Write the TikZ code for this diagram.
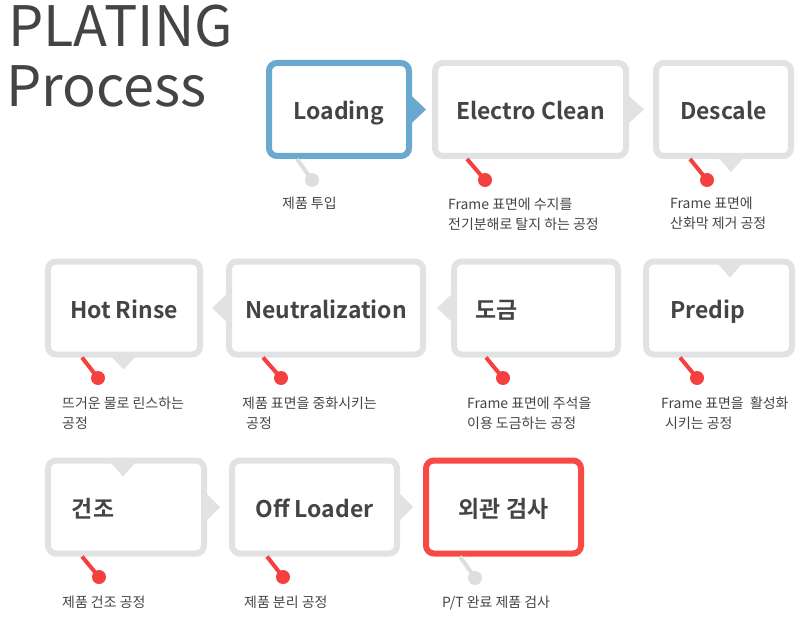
\documentclass[tikz,border=0pt]{standalone}
\usepackage{fontspec}
\setmainfont{Noto Sans CJK KR}[BoldFont={Noto Sans CJK KR Bold}]
\usetikzlibrary{calc}
\definecolor{bgray}{HTML}{E1E2E4}
\definecolor{bblue}{HTML}{69A9CF}
\definecolor{bred}{HTML}{F84A44}
\definecolor{dotred}{HTML}{F4403F}
\definecolor{dotgray}{HTML}{DDDEE0}
\definecolor{txt}{HTML}{444444}
\begin{document}
\begin{tikzpicture}[x=1bp,y=-1bp,
 stepbox/.style={draw=bgray, line width=6bp, fill=white, rounded corners=8bp, minimum height=93bp, inner ysep=0pt, text height=21bp, text depth=0pt, font=\fontsize{23}{28}\selectfont\bfseries, text=txt},
 pindot/.style={circle, fill=#1, minimum size=14bp, inner sep=0pt},
 lnk/.style={draw=#1, line width=4bp},
 desc/.style={anchor=base west, align=left, inner sep=0pt, font=\fontsize{14}{20}\selectfont, text=txt},
 bigtitle/.style={anchor=base west, inner sep=0pt, font=\fontsize{56}{60}\selectfont, text=txt},
]
\path[use as bounding box, fill=white] (0,0) rectangle (798,618);

% title
\node[bigtitle] (tt1) at (8,47) {PLATING};
\node[bigtitle] (tt2) at (6,107) {Process};

% row 1
\node[stepbox, draw=bblue, minimum width=140bp] (b1) at (339,109.5) {Loading};
\node[stepbox, minimum width=191bp] (b2) at (530.5,109.5) {Electro Clean};
\node[stepbox, minimum width=135bp] (b3) at (723.5,109.5) {Descale};
% row 2
\node[stepbox, minimum width=152bp] (b4) at (124,308) {Hot Rinse};
\node[stepbox, minimum width=194bp] (b5) at (326,308) {Neutralization};
\node[stepbox, inner xsep=21bp, text width=122bp, align=left] (b6) at (536,308) {도금};
\node[stepbox, inner xsep=24bp, text width=98bp, align=left] (b7) at (719,308) {Predip};
% row 3
\node[stepbox, inner xsep=24bp, text width=108bp, align=left] (b8) at (126,507) {건조};
\node[stepbox, minimum width=165bp] (b9) at (314.5,507) {Off Loader};
\node[stepbox, draw=bred, minimum width=155bp] (b10) at (503.5,507) {외관 검사};

% pointers
\fill[bblue] ($(b1.east)+(-4,-17)$) -- ($(b1.east)+(14,0)$) -- ($(b1.east)+(-4,17)$) -- cycle;
\fill[bgray] ($(b2.east)+(-4,-17)$) -- ($(b2.east)+(15,0)$) -- ($(b2.east)+(-4,17)$) -- cycle;
\fill[bgray] ($(b3.south west)+(63,-4)$) -- ($(b3.south west)+(93,-4)$) -- ($(b3.south west)+(78,13)$) -- cycle;
\fill[bgray] ($(b4.south west)+(63.5,-4)$) -- ($(b4.south west)+(93.5,-4)$) -- ($(b4.south west)+(78.5,12)$) -- cycle;
\fill[bgray] ($(b5.west)+(4,-17)$) -- ($(b5.west)+(-14,0)$) -- ($(b5.west)+(4,17)$) -- cycle;
\fill[bgray] ($(b6.west)+(4,-17)$) -- ($(b6.west)+(-14,0)$) -- ($(b6.west)+(4,17)$) -- cycle;
\fill[bgray] ($(b7.north west)+(73,3)$) -- ($(b7.north west)+(101,3)$) -- ($(b7.north west)+(87,19)$) -- cycle;
\fill[bgray] ($(b8.north west)+(64,3)$) -- ($(b8.north west)+(92,3)$) -- ($(b8.north west)+(78,19)$) -- cycle;
\fill[bgray] ($(b8.east)+(-4,-17)$) -- ($(b8.east)+(13,0)$) -- ($(b8.east)+(-4,17)$) -- cycle;
\fill[bgray] ($(b9.east)+(-4,-17)$) -- ($(b9.east)+(13,0)$) -- ($(b9.east)+(-4,17)$) -- cycle;

% dots
\node[pindot=dotgray] (d1) at (312,180) {};
\node[pindot=dotred] (d2) at (485,180) {};
\node[pindot=dotred] (d3) at (707,180) {};
\node[pindot=dotred] (d4) at (98,378) {};
\node[pindot=dotred] (d5) at (281,378) {};
\node[pindot=dotred] (d6) at (503,378) {};
\node[pindot=dotred] (d7) at (697,378) {};
\node[pindot=dotred] (d8) at (99,577) {};
\node[pindot=dotred] (d9) at (283,577) {};
\node[pindot=dotgray] (d10) at (475,578) {};

% connectors
\draw[lnk=dotgray] ($(b1.south west)+(31,0)$) -- (d1.center);
\draw[lnk=dotred] ($(b2.south west)+(35,0)$) -- (d2.center);
\draw[lnk=dotred] ($(b3.south west)+(37,0)$) -- (d3.center);
\draw[lnk=dotred] ($(b4.south west)+(37,0)$) -- (d4.center);
\draw[lnk=dotred] ($(b5.south west)+(37,0)$) -- (d5.center);
\draw[lnk=dotred] ($(b6.south west)+(35,0)$) -- (d6.center);
\draw[lnk=dotred] ($(b7.south west)+(37,0)$) -- (d7.center);
\draw[lnk=dotred] ($(b8.south west)+(37,0)$) -- (d8.center);
\draw[lnk=dotred] ($(b9.south west)+(38,0)$) -- (d9.center);
\draw[lnk=dotgray] ($(b10.south west)+(37,0)$) -- (d10.center);

% descriptions (anchor = baseline of the last line)
\node[desc] (t1) at (282,208.5) {제품 투입};
\node[desc] (t2) at (448,229.5) {Frame 표면에 수지를\\전기분해로 탈지 하는 공정};
\node[desc] (t3) at (670,228.5) {Frame 표면에\\산화막 제거 공정};
\node[desc] (t4) at (62,428) {뜨거운 물로 린스하는\\공정};
\node[desc] (t5) at (242,428) {제품 표면을 중화시키는\\\hspace*{4bp}공정};
\node[desc] (t6) at (467,428.5) {Frame 표면에 주석을\\이용 도금하는 공정};
\node[desc] (t7) at (661,428.5) {Frame 표면을\ \ 활성화\\\hspace*{4bp}시키는 공정};
\node[desc] (t8) at (62,607.5) {제품 건조 공정};
\node[desc] (t9) at (244,607.5) {제품 분리 공정};
\node[desc] (t10) at (442,607.5) {P/T 완료 제품 검사};
\end{tikzpicture}
\end{document}
